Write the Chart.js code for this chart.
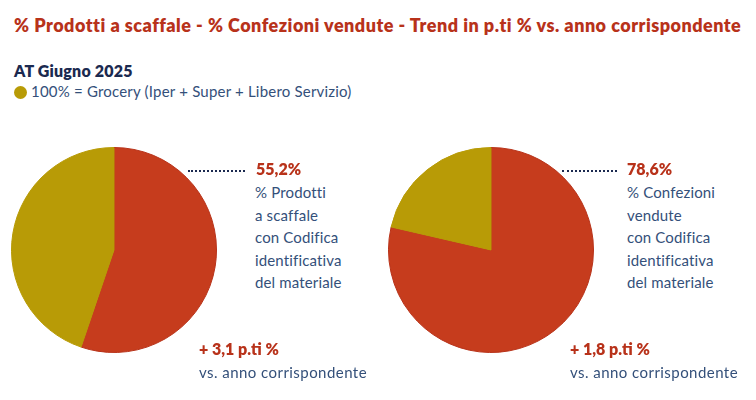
<!DOCTYPE html>
<html>
<head>
<meta charset="utf-8">
<script src="https://cdn.jsdelivr.net/npm/chart.js@4"></script>
<style>
  body { margin: 0; background: #fff; font-family: Lato, "Noto Sans", sans-serif; }
  #wrap { position: relative; width: 756px; height: 400px; overflow: hidden; }
  .t { position: absolute; white-space: nowrap; line-height: 1; }
  .title { left: 14px; top: 16px; font-size: 18px; font-weight: 800; color: #B8321A; letter-spacing: 0.48px; }
  .sub { left: 14px; top: 63px; font-size: 16px; font-weight: 800; color: #1B2A50; letter-spacing: 0.2px; }
  .leg { left: 31px; top: 84px; font-size: 15px; font-weight: 400; color: #34507A; letter-spacing: 0.2px; }
  .dot { position: absolute; left: 14px; top: 86px; width: 13px; height: 13px; border-radius: 50%; background: #B89B06; }
  .val { font-size: 16px; font-weight: 800; color: #B8321A; }
  .desc { font-size: 15px; color: #34507A; line-height: 22.5px; letter-spacing: 0.15px; }
  .vs { letter-spacing: 0.45px; }
  .lead { position: absolute; height: 0; border-top: 2px dotted #1B2A50; }
  .box { position: absolute; }
</style>
</head>
<body>
<div id="wrap">
  <div class="t title">% Prodotti a scaffale - % Confezioni vendute - Trend in p.ti % vs. anno corrispondente</div>
  <div class="t sub">AT Giugno 2025</div>
  <div class="dot"></div>
  <div class="t leg">100% = Grocery (Iper + Super + Libero Servizio)</div>

  <div class="box" style="left:11px; top:147px; width:206px; height:206px;"><canvas id="pie1"></canvas></div>
  <div class="box" style="left:388px; top:147px; width:206px; height:206px;"><canvas id="pie2"></canvas></div>

  <div class="lead" style="left:188px; top:170px; width:57px;"></div>
  <div class="lead" style="left:562px; top:170px; width:55px;"></div>

  <div class="t val" id="v1" style="left:256px; top:161px;"></div>
  <div class="t desc" id="d1" style="left:255px; top:181px;"></div>
  <div class="t val" id="tr1" style="left:199px; top:341px;"></div>
  <div class="t desc vs" style="left:199px; top:361px;">vs. anno corrispondente</div>

  <div class="t val" id="v2" style="left:627px; top:161px;"></div>
  <div class="t desc" id="d2" style="left:627px; top:181px;"></div>
  <div class="t val" id="tr2" style="left:570px; top:341px;"></div>
  <div class="t desc vs" style="left:570px; top:361px;">vs. anno corrispondente</div>
</div>
<script>
// slice labels and values (percent)
const sliceLabels = ['Con Codifica identificativa', 'Altro'];
const prodottiValues = [55.2, 44.8];
const confezioniValues = [78.6, 21.4];
const trendValues = [3.1, 1.8];
const descLines1 = ['% Prodotti', 'a scaffale', 'con Codifica', 'identificativa', 'del materiale'];
const descLines2 = ['% Confezioni', 'vendute', 'con Codifica', 'identificativa', 'del materiale'];

const RED = '#C63C1D';
const GOLD = '#B89B06';

const fmt = v => v.toFixed(1).replace('.', ',');

document.getElementById('v1').textContent = fmt(prodottiValues[0]) + '%';
document.getElementById('v2').textContent = fmt(confezioniValues[0]) + '%';
document.getElementById('tr1').textContent = '+ ' + fmt(trendValues[0]) + ' p.ti %';
document.getElementById('tr2').textContent = '+ ' + fmt(trendValues[1]) + ' p.ti %';
document.getElementById('d1').innerHTML = descLines1.join('<br>');
document.getElementById('d2').innerHTML = descLines2.join('<br>');

function makePie(id, values) {
    return new Chart(document.getElementById(id), {
        type: 'pie',
        data: {
            labels: sliceLabels,
            datasets: [{
                data: values,
                backgroundColor: [RED, GOLD],
                borderColor: ['#B8331A', '#B89B06'],
                borderWidth: 1
            }]
        },
        options: {
            responsive: true,
            maintainAspectRatio: false,
            animation: false,
            layout: { padding: 0 },
            plugins: { legend: { display: false }, tooltip: { enabled: false } }
        }
    });
}

makePie('pie1', prodottiValues);
makePie('pie2', confezioniValues);
</script>
</body>
</html>
